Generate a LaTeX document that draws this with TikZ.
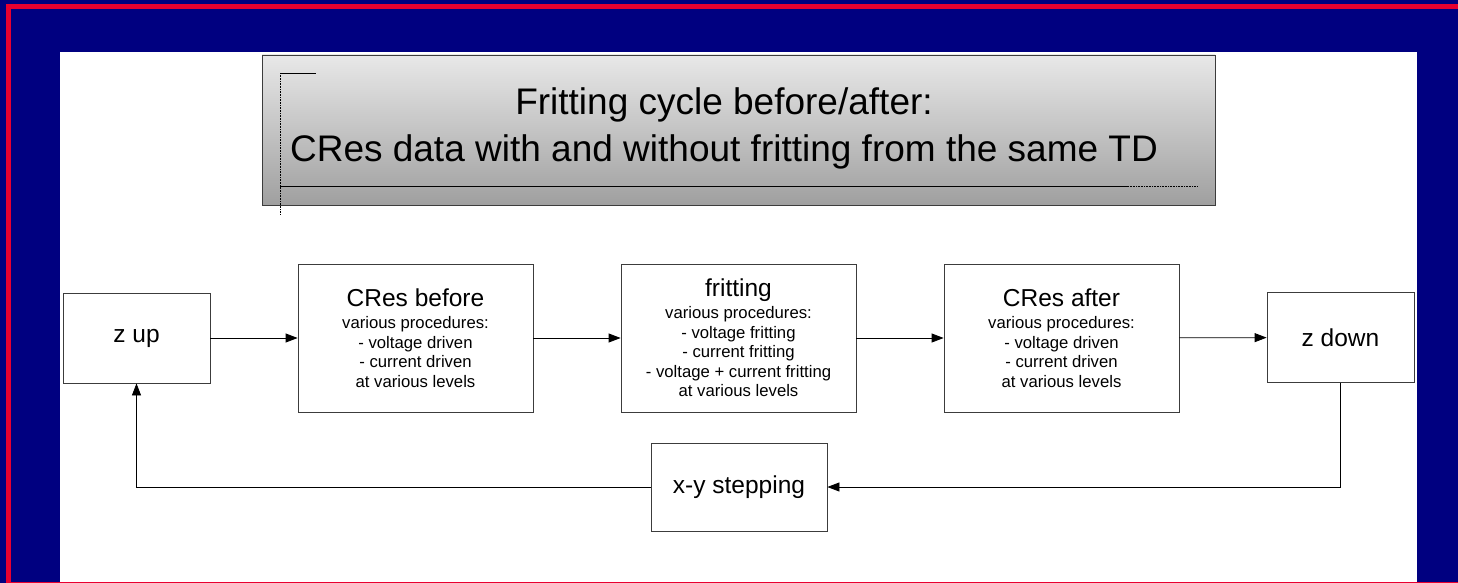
\documentclass[tikz,border=0pt]{standalone}
\usepackage{fontspec}
\setmainfont{Liberation Sans}
\usetikzlibrary{arrows.meta}
\definecolor{slideNavy}{RGB}{0,0,128}
\definecolor{slideRed}{RGB}{232,0,48}
\definecolor{boxGray}{RGB}{60,60,60}
\newcommand{\titlefont}{\fontsize{37}{47}\selectfont}
\newcommand{\headfont}{\fontsize{24.5}{24.5}\selectfont}
\newcommand{\notefont}{\fontsize{16.7}{19.5}\selectfont}

\begin{document}
\begin{tikzpicture}[x=1pt, y=-1pt, line join=miter,
  stepbox/.style={draw=boxGray, fill=white, line width=0.8pt, align=center, inner sep=0pt, font=\notefont},
  widebox/.style={stepbox, minimum width=235pt, minimum height=148pt},
  smallbox/.style={stepbox, minimum width=147pt, minimum height=90pt},
  flowarrow/.style={-{Triangle[length=12pt,width=9pt]}, line width=0.8pt, black}]
\useasboundingbox (0,0) rectangle (1458,583);
% slide background
\fill[slideNavy] (0,0) rectangle (1458,583);
\fill[slideRed] (6,4) rectangle (1458,9);
\fill[slideRed] (6,4) rectangle (11,583);
\fill[white] (60,52) rectangle (1417,583);
\fill[slideRed] (11,581.5) rectangle (1458,583);
% title banner
\shade[top color=gray!18, bottom color=gray!75, draw=boxGray, line width=0.9pt] (262,55) rectangle (1215,205);
\draw[line width=0.8pt] (280,73) -- (316,73);
\draw[densely dotted, line width=0.6pt] (280,73) -- (280,215);
\draw[line width=0.8pt] (280,186) -- (1128,186);
\draw[densely dotted, line width=0.6pt] (1128,186) -- (1197,186);
\node[font=\titlefont, align=center, inner sep=0pt] (title) at (724,128.6)
  {Fritting cycle before/after:\\CRes data with and without fritting from the same TD};
% cycle
\node[smallbox, font=\headfont] (zup) at (136.5,338) {z up};
\node[widebox] (before) at (415.5,338) {{\headfont CRes before}\\[2.8pt]various procedures:\\- voltage driven\\- current driven\\at various levels};
\node[widebox] (frit) at (738.5,338) {{\headfont fritting}\\[2.8pt]various procedures:\\- voltage fritting\\- current fritting\\- voltage + current fritting\\at various levels};
\node[widebox] (after) at (1061.5,338) {{\headfont CRes after}\\[2.8pt]various procedures:\\- voltage driven\\- current driven\\at various levels};
\node[smallbox, font=\headfont] (zdown) at (1340.5,337.5) {z down};
\node[stepbox, font=\headfont, minimum width=176pt, minimum height=88pt] (xystep) at (739,487) {x-y stepping};
\draw[flowarrow] (zup) -- (before);
\draw[flowarrow] (before) -- (frit);
\draw[flowarrow] (frit) -- (after);
\draw[flowarrow] (after) -- (zdown);
\draw[flowarrow] (zdown.south) |- (xystep.east);
\draw[flowarrow] (xystep.west) -| (zup.south);
\end{tikzpicture}
\end{document}
